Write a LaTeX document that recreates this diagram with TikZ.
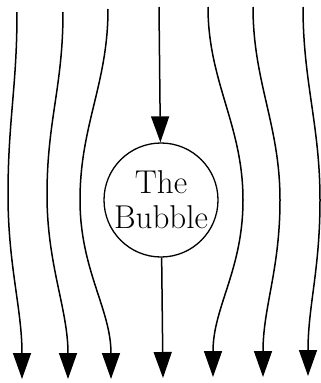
\documentclass[tikz,border=0pt]{standalone}
\usepackage{fontspec}
\usetikzlibrary{arrows.meta}

\begin{document}
\begin{tikzpicture}[x=1pt, y=-1pt,
  fieldline/.style={line width=1.5pt, -{Triangle[width=18pt,length=26pt]}}]

  \useasboundingbox (0,0) rectangle (321,383);

  % --- the bubble ---
  \node[draw, circle, line width=1.3pt, minimum size=114pt, inner sep=0pt,
    align=center, font=\fontsize{33}{35}\selectfont] (bubble) at (161,200)
    {The\\Bubble};

  % --- flow lines bending round it ---
  \foreach \xt/\yt/\xm/\ym/\xb/\yb [count=\i] in
    {17/12/8/195/22/379, 63/12/47/195/68/379, 108/9/80/200/111/379,
     208/7/243/200/213/377, 253/7/280/200/263/377, 303/7/320/200/308/376}
  {
    \coordinate (top\i) at (\xt,\yt);
    \coordinate (mid\i) at (\xm,\ym);
    \coordinate (bot\i) at (\xb,\yb);
    \draw[fieldline] (top\i) .. controls +(0,75) and +(0,-75) .. (mid\i)
      .. controls +(0,70) and +(0,-70) .. (bot\i);
  }

  % --- straight line through the middle ---
  \coordinate (topc) at (159,7);
  \coordinate (botc) at (163,378);
  \draw[fieldline] (topc) -- (bubble);
  \draw[fieldline] (bubble) -- (botc);

\end{tikzpicture}
\end{document}
